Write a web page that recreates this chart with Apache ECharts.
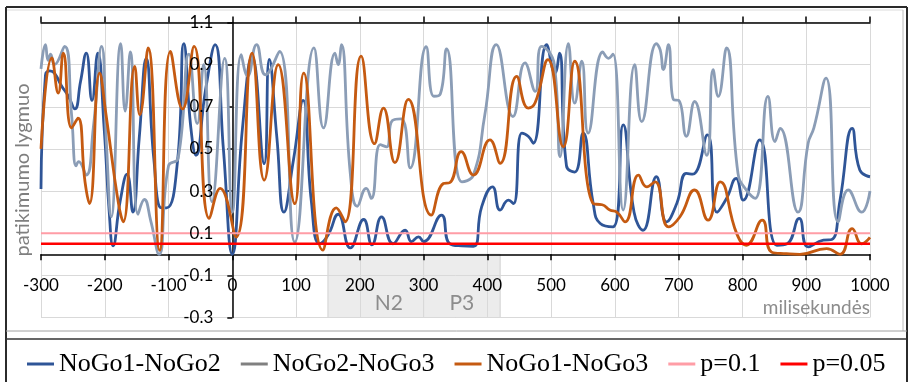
<!DOCTYPE html>
<html>
<head>
<meta charset="utf-8">
<script src="https://cdn.jsdelivr.net/npm/echarts@6/dist/echarts.min.js"></script>
<style>
  html, body { margin: 0; padding: 0; background: #fff; }
  #chart { width: 908px; height: 382px; }
</style>
</head>
<body>
<div id="chart"></div>
<script>
  // axis ranges (milliseconds / reliability level)
  var msRange = [-300, 1000]
  var levelRange = [-0.3, 1.1]

  var seriesNames = ['NoGo1-NoGo2', 'NoGo2-NoGo3', 'NoGo1-NoGo3', 'p=0.1', 'p=0.05']

  // [ms, level] (peaks, dips and a few points in between)
  var nogo12 = [[-300,0.31],[-293,0.85],[-286,0.87],[-279,0.86],[-268,0.8],[-257,0.75],[-247,0.69],[-238,0.82],[-229,0.955],[-220,0.73],[-211,0.955],[-201,0.6],[-193,0.2],[-187,0.04],[-176,0.25],[-165,0.38],[-156,0.2],[-146,0.55],[-135,0.93],[-123,0.45],[-111,0.22],[-103,0.22],[-86,0.44],[-76,1.0],[-65,0.6],[-57,0.47],[-42,0.78],[-27,0.995],[-14,0.5],[0,0.0],[16,0.6],[31,0.94],[50,0.43],[58,0.925],[70,0.55],[81,0.2],[96,0.45],[111,0.73],[124,0.25],[137,0.05],[150,0.09],[166,0.19],[185,0.03],[206,0.165],[219,0.045],[234,0.178],[252,0.05],[271,0.114],[281,0.06],[292,0.083],[300,0.06],[328,0.186],[341,0.05],[360,0.04],[378,0.038],[391,0.225],[408,0.32],[420,0.21],[433,0.257],[441,0.24],[454,0.575],[464,0.56],[472,0.527],[493,0.995],[506,0.86],[513,0.955],[524,0.42],[537,0.39],[550,0.575],[566,0.24],[577,0.146],[597,0.13],[613,0.614],[630,0.2],[644,0.114],[665,0.368],[681,0.154],[697,0.241],[712,0.384],[722,0.38],[745,0.567],[760,0.2],[775,0.265],[790,0.36],[801,0.257],[827,0.543],[854,0.043],[870,0.05],[889,0.17],[903,0.035],[927,0.067],[940,0.07],[953,0.257],[972,0.598],[984,0.4],[1000,0.368]]

  var nogo23 = [[-300,0.88],[-293,0.995],[-289,0.92],[-285,0.95],[-279,0.9],[-263,0.987],[-252,0.66],[-245,0.42],[-241,0.44],[-229,0.376],[-218,0.6],[-205,0.987],[-197,0.5],[-190,0.178],[-175,1.0],[-168,0.68],[-160,0.96],[-148,0.19],[-138,0.26],[-128,0.16],[-115,0.0],[-100,0.42],[-85,0.455],[-68,0.95],[-55,0.62],[-45,0.9],[-32,0.25],[-12,0.93],[0,0.2],[14,0.947],[24,0.845],[38,0.995],[52,0.852],[74,0.963],[98,0.058],[128,0.98],[143,0.6],[161,0.955],[166,0.9],[171,0.995],[185,0.384],[196,0.228],[210,0.313],[218,0.265],[232,0.52],[242,0.51],[251,0.635],[265,0.643],[279,0.41],[304,0.985],[316,0.75],[326,0.76],[336,0.975],[360,0.344],[378,0.376],[396,0.662],[414,0.995],[440,0.654],[459,0.908],[475,0.773],[485,0.987],[505,0.9],[514,0.463],[527,1.0],[537,0.717],[548,0.916],[558,0.575],[581,0.96],[590,0.93],[597,0.95],[613,0.21],[631,0.9],[642,0.63],[665,1.0],[671,0.97],[676,0.876],[684,0.995],[692,0.733],[700,0.73],[712,0.56],[725,0.725],[744,0.47],[754,0.876],[762,0.749],[775,0.98],[793,0.384],[806,0.305],[820,0.265],[840,0.749],[851,0.535],[859,0.598],[887,0.2],[903,0.527],[912,0.6],[931,0.836],[950,0.154],[966,0.305],[987,0.2],[1000,0.3]]

  var nogo13 = [[-300,0.5],[-283,0.932],[-273,0.765],[-265,0.955],[-252,0.6],[-242,0.646],[-231,0.344],[-224,0.241],[-208,0.86],[-198,0.662],[-179,0.25],[-171,0.154],[-153,0.892],[-145,0.662],[-132,0.979],[-114,0.019],[-97,0.963],[-78,0.69],[-60,0.987],[-36,0.17],[-19,0.313],[6,0.082],[31,0.955],[50,0.352],[72,0.9],[98,0.24],[112,0.86],[142,0.02],[163,0.22],[177,0.154],[202,0.94],[223,0.525],[237,0.694],[255,0.435],[276,0.735],[312,0.186],[331,0.336],[341,0.34],[359,0.487],[378,0.376],[404,0.543],[420,0.432],[446,0.844],[464,0.694],[475,0.72],[495,0.924],[519,0.51],[537,0.916],[566,0.24],[580,0.235],[592,0.21],[603,0.2],[616,0.154],[637,0.376],[650,0.32],[663,0.344],[684,0.13],[702,0.178],[725,0.305],[746,0.162],[765,0.344],[791,0.098],[806,0.043],[831,0.162],[846,0.01],[869,0.003],[890,0.0],[932,0.027],[953,0.0],[972,0.122],[987,0.05],[1000,0.08]]

  // significance levels
  var pLevels = [0.1, 0.05]

  // ERP windows shaded under the axis
  var windowNames = ['N2', 'P3']
  var windowFrom = [150, 300]
  var windowTo = [300, 420]

  var axisFont = 'Lato, "DejaVu Sans", sans-serif'
  var legendFont = '"Liberation Serif", "DejaVu Serif", serif'
  var windowLabelOffset = { N2: [13, 17], P3: [0, 17] }

  // plot box in pixels; the label grids are cut from it so labels sit on the zero lines
  var plot = { left: 41, right: 38, top: 22.5, bottom: 64.5 }
  var plotW = 908 - plot.left - plot.right
  var plotH = 382 - plot.top - plot.bottom
  var zeroX = plot.left + plotW * (0 - msRange[0]) / (msRange[1] - msRange[0])
  var zeroY = plot.top + plotH * (levelRange[1] - 0) / (levelRange[1] - levelRange[0])

  var chart = echarts.init(document.getElementById('chart'))

  function curve(name, data, color) {
    return {
      name: name,
      type: 'line',
      data: data,
      color: color,
      smooth: 0.5,
      showSymbol: false,
      lineStyle: { color: color, width: 2.8 }
    }
  }

  function level(name, p, color, width) {
    return {
      name: name,
      type: 'line',
      data: [[msRange[0], p], [msRange[1], p]],
      color: color,
      showSymbol: false,
      lineStyle: { color: color, width: width }
    }
  }

  var blackLine = { color: '#000', width: 1.5 }

  var option = {
    animation: false,
    backgroundColor: '#fff',
    grid: [
      { left: plot.left, right: plot.right, top: plot.top, bottom: plot.bottom, outerBoundsMode: 'none' },
      // x labels along the zero line
      { left: plot.left, right: plot.right, top: plot.top, bottom: 382 - zeroY, outerBoundsMode: 'none' },
      // y labels along the zero line
      { left: zeroX, right: plot.right, top: plot.top, bottom: plot.bottom, outerBoundsMode: 'none' }
    ],
    legend: {
      left: 22,
      top: 346,
      icon: 'rect',
      itemWidth: 27,
      itemHeight: 3,
      itemGap: 20,
      textStyle: { color: '#000', fontSize: 26, fontFamily: legendFont },
      data: [
        { name: seriesNames[0] },
        { name: seriesNames[1], itemStyle: { color: '#808080' } },
        { name: seriesNames[2] },
        { name: seriesNames[3] },
        { name: seriesNames[4] }
      ]
    },
    graphic: [
      // chart frame
      { type: 'line', shape: { x1: 6, y1: 7, x2: 907, y2: 7 }, style: { stroke: '#2b2b2b', lineWidth: 2 } },
      { type: 'line', shape: { x1: 6, y1: 7, x2: 6, y2: 382 }, style: { stroke: '#2b2b2b', lineWidth: 2 } },
      { type: 'line', shape: { x1: 907, y1: 7, x2: 907, y2: 382 }, style: { stroke: '#2b2b2b', lineWidth: 2 } },
      { type: 'line', shape: { x1: 7, y1: 10, x2: 903, y2: 10 }, style: { stroke: '#dcdcdc', lineWidth: 1 } },
      { type: 'line', shape: { x1: 903, y1: 10, x2: 903, y2: 331 }, style: { stroke: '#bcbcbc', lineWidth: 1 } },
      { type: 'line', shape: { x1: 6, y1: 331, x2: 907, y2: 331 }, style: { stroke: '#a0a0a0', lineWidth: 1 } },
      { type: 'line', shape: { x1: 6, y1: 339, x2: 907, y2: 339 }, style: { stroke: '#333', lineWidth: 1.5 } }
    ],
    xAxis: [
      {
        gridIndex: 0,
        type: 'value',
        min: msRange[0],
        max: msRange[1],
        interval: 100,
        position: 'bottom',
        axisLine: { show: true, onZero: true, lineStyle: blackLine },
        axisTick: { show: true, inside: false, length: 6, lineStyle: blackLine },
        axisLabel: { show: false },
        splitLine: { show: true, lineStyle: { color: '#d9d9d9', width: 1 } }
      },
      {
        // upper half of the crossing ticks
        gridIndex: 0,
        type: 'value',
        min: msRange[0],
        max: msRange[1],
        interval: 100,
        position: 'top',
        axisLine: { show: true, onZero: true, lineStyle: blackLine },
        axisTick: { show: true, inside: false, length: 6, lineStyle: blackLine },
        axisLabel: { show: false },
        splitLine: { show: false }
      },
      {
        gridIndex: 1,
        type: 'value',
        min: msRange[0],
        max: msRange[1],
        interval: 100,
        position: 'bottom',
        z: 5,
        axisLine: { show: false, onZero: false },
        axisTick: { show: false },
        splitLine: { show: false },
        axisLabel: {
          color: '#000', fontFamily: axisFont, fontSize: 17, margin: 23,
          formatter: function (v) { return String(v) }
        },
        name: 'milisekundės',
        nameLocation: 'end',
        nameGap: 0,
        nameTextStyle: {
          color: '#8c8c8c', fontFamily: axisFont, fontSize: 19,
          align: 'right', verticalAlign: 'top', padding: [44, 0, 0, 0]
        }
      },
      {
        gridIndex: 2,
        type: 'value',
        min: 0,
        max: msRange[1],
        show: false
      }
    ],
    yAxis: [
      {
        gridIndex: 0,
        type: 'value',
        min: levelRange[0],
        max: levelRange[1],
        interval: 0.2,
        position: 'left',
        axisLine: { show: true, onZero: true, lineStyle: blackLine },
        axisTick: { show: true, inside: false, length: 5, lineStyle: blackLine },
        axisLabel: { show: false },
        splitLine: { show: true, lineStyle: { color: '#d9d9d9', width: 1 } }
      },
      {
        gridIndex: 1,
        type: 'value',
        min: 0,
        max: levelRange[1],
        show: false
      },
      {
        gridIndex: 2,
        type: 'value',
        min: levelRange[0],
        max: levelRange[1],
        interval: 0.2,
        position: 'left',
        z: 5,
        axisLine: { show: false, onZero: false },
        axisTick: { show: false },
        splitLine: { show: false },
        axisLabel: {
          color: '#000', fontFamily: axisFont, fontSize: 17, margin: 19,
          formatter: function (v) { return v.toFixed(1) }
        },
        name: 'patikimumo lygmuo',
        nameLocation: 'middle',
        nameGap: 200,
        nameTextStyle: { color: '#7f7f7f', fontFamily: axisFont, fontSize: 20 }
      }
    ],
    series: [
      {
        name: 'windows',
        type: 'line',
        data: [],
        z: -1,
        silent: true,
        markArea: {
          silent: true,
          z: -1,
          itemStyle: { color: '#ececec', borderColor: '#d0d0d0', borderWidth: 1 },
          label: { show: true, position: 'inside', color: '#8c8c8c', fontFamily: axisFont, fontSize: 21 },
          data: windowNames.map(function (n, i) {
            return [
              { name: n, xAxis: windowFrom[i], yAxis: 0, label: { offset: windowLabelOffset[n] } },
              { xAxis: windowTo[i], yAxis: levelRange[0] }
            ]
          })
        }
      },
      curve(seriesNames[0], nogo12, '#2f5597'),
      curve(seriesNames[1], nogo23, '#8b9db6'),
      curve(seriesNames[2], nogo13, '#c55a11'),
      level(seriesNames[3], pLevels[0], '#ff9da6', 2),
      level(seriesNames[4], pLevels[1], '#ff0000', 2.4)
    ]
  }

  chart.setOption(option)
</script>
</body>
</html>
